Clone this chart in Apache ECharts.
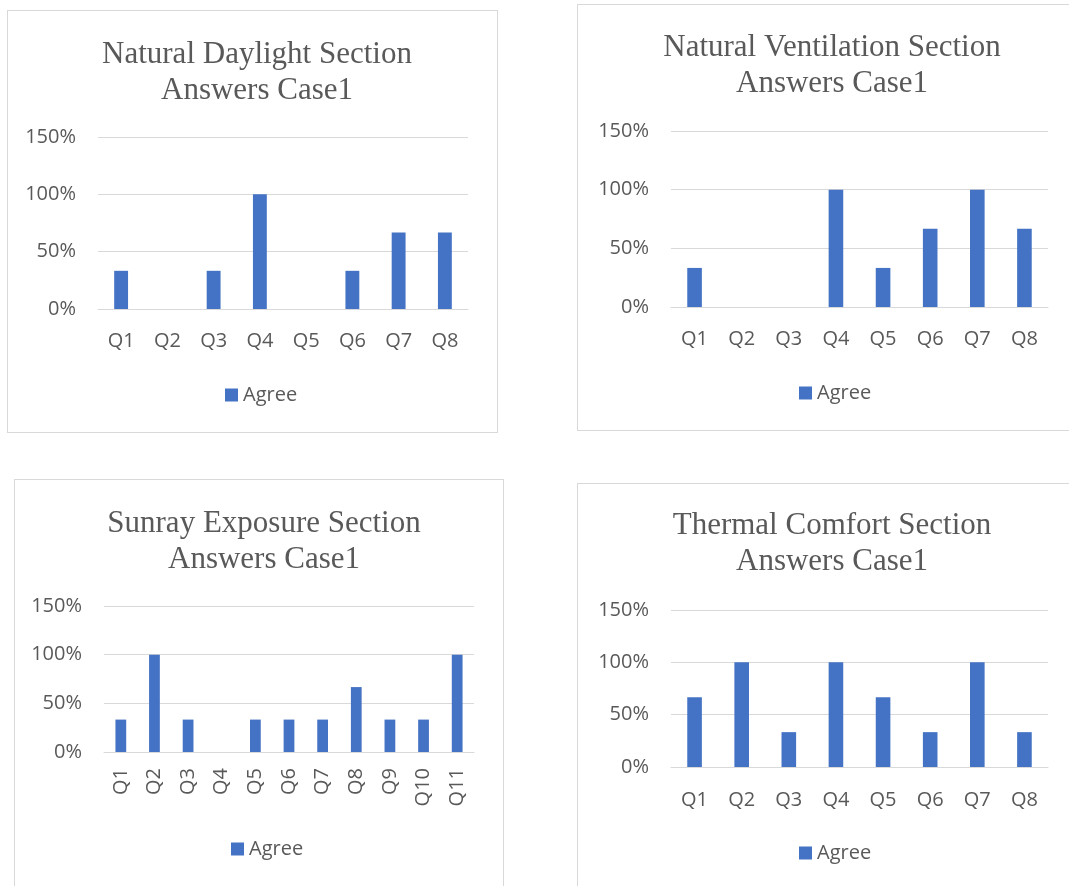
<!DOCTYPE html>
<html>
<head>
<meta charset="utf-8">
<script src="https://cdn.jsdelivr.net/npm/echarts@6/dist/echarts.min.js"></script>
<style>
  html, body { margin: 0; padding: 0; background: #ffffff; width: 1069px; height: 886px; overflow: hidden; }
  .panel { position: absolute; box-sizing: border-box; border: 1px solid #d9d9d9; background: #fff; }
</style>
</head>
<body>
<div id="p1" class="panel" style="left:7px; top:10px; width:491px; height:423px;"></div>
<div id="p2" class="panel" style="left:577px; top:4px; width:501px; height:427px;"></div>
<div id="p3" class="panel" style="left:14px; top:479px; width:490px; height:430px;"></div>
<div id="p4" class="panel" style="left:577px; top:483px; width:501px; height:430px;"></div>
<script>
// Question labels
const questions8 = ['Q1', 'Q2', 'Q3', 'Q4', 'Q5', 'Q6', 'Q7', 'Q8'];
const questions11 = ['Q1', 'Q2', 'Q3', 'Q4', 'Q5', 'Q6', 'Q7', 'Q8', 'Q9', 'Q10', 'Q11'];

// Share of "Agree" answers per question (fraction of respondents)
const agreeDaylight    = [0.333, 0, 0.333, 1.0, 0, 0.333, 0.667, 0.667];
const agreeVentilation = [0.333, 0, 0, 1.0, 0.333, 0.667, 1.0, 0.667];
const agreeSunray      = [0.333, 1.0, 0.333, 0, 0.333, 0.333, 0.333, 0.667, 0.333, 0.333, 1.0];
const agreeThermal     = [0.667, 1.0, 0.333, 1.0, 0.667, 0.333, 1.0, 0.333];

// Value axis ticks: 0%, 50%, 100%, 150%
const yMin = 0, yMax = 1.5, yStep = 0.5;

const seriesName = 'Agree';
const titles = [
  'Natural Daylight Section\nAnswers Case1',
  'Natural Ventilation Section\nAnswers Case1',
  'Sunray Exposure Section\nAnswers Case1',
  'Thermal Comfort Section\nAnswers Case1'
];

const BAR = '#4472C4';
const TEXT = '#595959';
const GRID = '#d9d9d9';
const SANS = '"Open Sans", "Liberation Sans", sans-serif';
const SERIF = '"Liberation Serif", "DejaVu Serif", serif';

function buildOption(cfg) {
  return {
    animation: false,
    title: {
      text: cfg.title,
      left: cfg.titleX,
      top: cfg.titleTop,
      textAlign: 'center',
      textStyle: { fontFamily: SERIF, fontSize: 31, fontWeight: 'normal', color: TEXT, lineHeight: 36, align: 'center' }
    },
    legend: {
      data: [seriesName],
      left: cfg.legendX,
      top: cfg.legendTop,
      icon: 'rect',
      itemWidth: 13,
      itemHeight: 13,
      textStyle: { fontFamily: SANS, fontSize: 20, color: TEXT },
      selectedMode: false
    },
    grid: { left: cfg.gridLeft, top: cfg.gridTop, width: cfg.gridWidth, height: cfg.gridHeight },
    xAxis: {
      type: 'category',
      data: cfg.categories,
      axisLine: { show: true, lineStyle: { color: GRID, width: 1 } },
      axisTick: { show: false },
      axisLabel: {
        interval: 0,
        rotate: cfg.rotate || 0,
        margin: cfg.xMargin,
        fontFamily: SANS, fontSize: 20, color: TEXT
      }
    },
    yAxis: {
      type: 'value',
      min: yMin, max: yMax, interval: yStep,
      axisLine: { show: false },
      axisTick: { show: false },
      splitLine: { lineStyle: { color: GRID, width: 1 } },
      axisLabel: {
        margin: 22,
        fontFamily: SANS, fontSize: 20, color: TEXT,
        formatter: v => Math.round(v * 100) + '%'
      }
    },
    series: [{
      name: seriesName,
      type: 'bar',
      data: cfg.values,
      barWidth: cfg.barWidth,
      itemStyle: { color: BAR }
    }]
  };
}

const panels = [
  { id: 'p1', title: titles[0], categories: questions8, values: agreeDaylight, titleX: 244, legendX: 212,
    titleTop: 21, legendTop: 369, gridLeft: 90, gridTop: 126, gridWidth: 370, gridHeight: 172, xMargin: 22, barWidth: '30%' },
  { id: 'p2', title: titles[1], categories: questions8, values: agreeVentilation, titleX: 249, legendX: 216,
    titleTop: 20, legendTop: 373, gridLeft: 93, gridTop: 126, gridWidth: 377, gridHeight: 176, xMargin: 22, barWidth: '31%' },
  { id: 'p3', title: titles[2], categories: questions11, values: agreeSunray, titleX: 244, legendX: 211,
    titleTop: 21, legendTop: 354, gridLeft: 89, gridTop: 126, gridWidth: 370, gridHeight: 146, xMargin: 16, barWidth: '32%', rotate: 90 },
  { id: 'p4', title: titles[3], categories: questions8, values: agreeThermal, titleX: 249, legendX: 216,
    titleTop: 19, legendTop: 354, gridLeft: 93, gridTop: 126, gridWidth: 377, gridHeight: 157, xMargin: 23, barWidth: '31%' }
];

panels.forEach(cfg => {
  const chart = echarts.init(document.getElementById(cfg.id), null, { renderer: 'canvas' });
  chart.setOption(buildOption(cfg));
});
</script>
</body>
</html>
